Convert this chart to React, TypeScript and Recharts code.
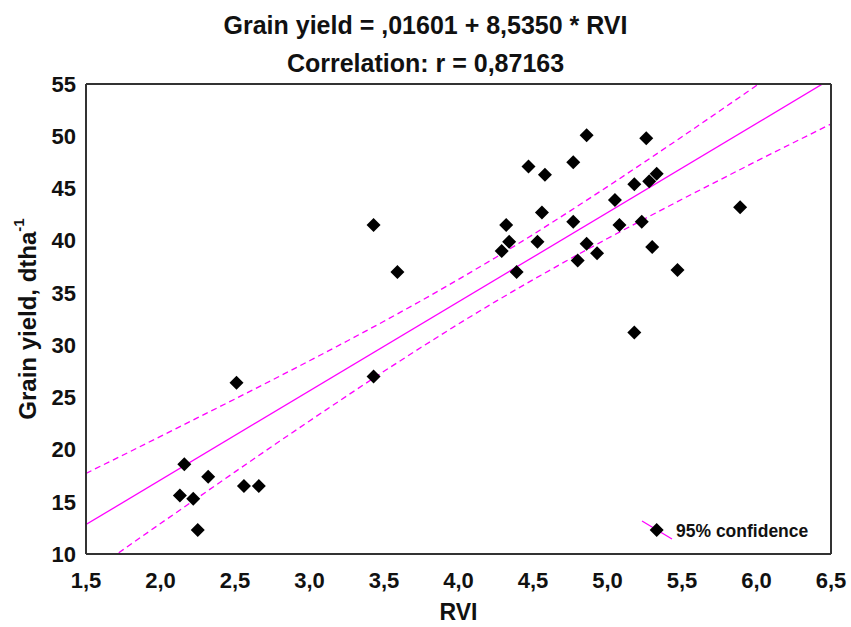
import React from 'react';
import {
  ComposedChart,
  Scatter,
  Line,
  XAxis,
  YAxis,
} from 'recharts';

// RVI vs grain yield observations
const rviValues = [
  2.51, 2.16, 2.13, 2.22, 2.25, 2.32, 2.56, 2.66, 3.43, 3.43, 3.59,
  4.32, 4.34, 4.29, 4.39, 4.47, 4.58, 4.56, 4.53, 4.86, 4.77,
  4.77, 4.86, 4.80, 4.93, 5.05, 5.08, 5.26, 5.18, 5.28, 5.33,
  5.23, 5.30, 5.47, 5.18, 5.89,
];
const yieldValues = [
  26.4, 18.6, 15.6, 15.3, 12.3, 17.4, 16.5, 16.5, 27.0, 41.5, 37.0,
  41.5, 39.9, 39.0, 37.0, 47.1, 46.3, 42.7, 39.9, 50.1, 47.5,
  41.8, 39.7, 38.1, 38.8, 43.9, 41.5, 49.8, 45.4, 45.7, 46.4,
  41.8, 39.4, 37.2, 31.2, 43.2,
];

// fitted line ends: Grain yield = ,01601 + 8,5350 * RVI
const fitX = [1.5, 6.5];
const fitY = [12.82, 55.49];

// 95% confidence bands
const bandX = [
  1.5, 1.75, 2.0, 2.25, 2.5, 2.75, 3.0, 3.25, 3.5, 3.75, 4.0,
  4.25, 4.5, 4.75, 5.0, 5.25, 5.5, 5.75, 6.0, 6.25, 6.5,
];
const bandUpper = [
  17.72, 19.48, 21.26, 23.05, 24.84, 26.66, 28.5, 30.37, 32.28, 34.25, 36.29,
  38.39, 40.58, 42.85, 45.17, 47.54, 49.95, 52.39, 54.85, 57.32, 59.81,
];
const bandLower = [
  7.92, 10.42, 12.92, 15.39, 17.86, 20.32, 22.74, 25.13, 27.5, 29.79, 32.03,
  34.19, 36.26, 38.27, 40.21, 42.1, 43.97, 45.79, 47.61, 49.4, 51.17,
];

const xTicks = [1.5, 2.0, 2.5, 3.0, 3.5, 4.0, 4.5, 5.0, 5.5, 6.0, 6.5];
const yTicks = [10, 15, 20, 25, 30, 35, 40, 45, 50, 55];

const points = rviValues.map((x, i) => ({ x, y: yieldValues[i] }));
const fitLine = fitX.map((x, i) => ({ x, y: fitY[i] }));
const upperLine = bandX.map((x, i) => ({ x, y: bandUpper[i] }));
const lowerLine = bandX.map((x, i) => ({ x, y: bandLower[i] }));

const FONT = '"Liberation Sans", Arial, sans-serif';
const FRAME = '#333';
const MAGENTA = '#ff00ff';

const Diamond = (props: any) => {
  const { cx, cy } = props;
  const r = 7;
  return (
    <polygon
      points={`${cx},${cy - r} ${cx + r},${cy} ${cx},${cy + r} ${cx - r},${cy}`}
      fill="#000"
    />
  );
};

const fmtX = (v: number) => v.toFixed(1).replace('.', ',');

const YLabel = (props: any) => {
  const { viewBox } = props;
  const cx = viewBox.x + 27;
  const cy = viewBox.y + viewBox.height / 2;
  return (
    <text
      x={cx}
      y={cy}
      transform={`rotate(-90 ${cx} ${cy})`}
      textAnchor="middle"
      dominantBaseline="central"
      fontFamily={FONT}
      fontWeight="bold"
      fontSize={24}
      fill="#111"
    >
      Grain yield, dtha
      <tspan dy={-9} fontSize={15}>-1</tspan>
    </text>
  );
};

const tickStyle = { fontSize: 22, fontWeight: 'bold', fill: '#111', fontFamily: FONT };

export default function App() {
  return (
    <div style={{ position: 'absolute', left: 0, top: 0, width: 851, height: 627, background: '#fff', fontFamily: FONT }}>
      <div style={{ position: 'absolute', left: 0, top: 11, width: 851, textAlign: 'center', fontSize: 25, fontWeight: 'bold', lineHeight: '28px', color: '#111' }}>
        Grain yield = ,01601 + 8,5350 * RVI
      </div>
      <div style={{ position: 'absolute', left: 0, top: 49, width: 851, textAlign: 'center', fontSize: 25, fontWeight: 'bold', lineHeight: '28px', color: '#111' }}>
        Correlation: r = 0,87163
      </div>
      <div style={{ position: 'absolute', left: 0, top: 0 }}>
        <ComposedChart width={851} height={627} margin={{ top: 84, right: 20, bottom: 0, left: 0 }}>
          <XAxis
            xAxisId="main"
            dataKey="x"
            type="number"
            domain={[1.5, 6.5]}
            ticks={xTicks}
            allowDataOverflow
            height={73}
            tickLine={false}
            tickSize={8}
            tickMargin={10}
            tickFormatter={fmtX}
            tick={tickStyle}
            axisLine={{ stroke: FRAME, strokeWidth: 2 }}
            label={{ value: 'RVI', position: 'insideBottom', offset: 7, fontSize: 23, fontWeight: 'bold', fill: '#111', fontFamily: FONT }}
          />
          <XAxis
            xAxisId="bottomIn"
            dataKey="x"
            type="number"
            domain={[1.5, 6.5]}
            ticks={xTicks}
            allowDataOverflow
            mirror
            height={30}
            tick={false}
            tickSize={5}
            tickLine={{ stroke: FRAME, strokeWidth: 1.5 }}
            axisLine={false}
          />
          <XAxis
            xAxisId="top"
            orientation="top"
            dataKey="x"
            type="number"
            domain={[1.5, 6.5]}
            ticks={xTicks}
            allowDataOverflow
            mirror
            height={30}
            tick={false}
            tickSize={5}
            tickLine={{ stroke: FRAME, strokeWidth: 1.5 }}
            axisLine={{ stroke: FRAME, strokeWidth: 2 }}
          />
          <YAxis
            yAxisId="main"
            dataKey="y"
            type="number"
            domain={[10, 55]}
            ticks={yTicks}
            allowDataOverflow
            width={86}
            tickLine={false}
            tickSize={5}
            tickMargin={5}
            tick={tickStyle}
            axisLine={{ stroke: FRAME, strokeWidth: 2 }}
            label={{ content: YLabel }}
          />
          <YAxis
            yAxisId="leftIn"
            type="number"
            domain={[10, 55]}
            ticks={yTicks}
            allowDataOverflow
            mirror
            width={40}
            tick={false}
            tickSize={5}
            tickLine={{ stroke: FRAME, strokeWidth: 1.5 }}
            axisLine={false}
          />
          <YAxis
            yAxisId="right"
            orientation="right"
            type="number"
            domain={[10, 55]}
            ticks={yTicks}
            allowDataOverflow
            mirror
            width={40}
            tick={false}
            tickSize={5}
            tickLine={{ stroke: FRAME, strokeWidth: 1.5 }}
            axisLine={{ stroke: FRAME, strokeWidth: 2 }}
          />
          <Line
            xAxisId="main"
            yAxisId="main"
            data={upperLine}
            dataKey="y"
            stroke={MAGENTA}
            strokeWidth={1.3}
            strokeDasharray="6 4"
            dot={false}
            isAnimationActive={false}
          />
          <Line
            xAxisId="main"
            yAxisId="main"
            data={lowerLine}
            dataKey="y"
            stroke={MAGENTA}
            strokeWidth={1.3}
            strokeDasharray="6 4"
            dot={false}
            isAnimationActive={false}
          />
          <Line
            xAxisId="main"
            yAxisId="main"
            data={fitLine}
            dataKey="y"
            stroke={MAGENTA}
            strokeWidth={1.3}
            dot={false}
            isAnimationActive={false}
          />
          <Scatter
            xAxisId="main"
            yAxisId="main"
            data={points}
            dataKey="y"
            shape={Diamond}
            isAnimationActive={false}
          />
        </ComposedChart>
      </div>
      <svg style={{ position: 'absolute', left: 640, top: 515 }} width={40} height={30}>
        <line x1={2} y1={6} x2={32} y2={24} stroke={MAGENTA} strokeWidth={1.3} />
        <polygon points="16.7,8 23.7,15 16.7,22 9.7,15" fill="#000" />
      </svg>
      <div style={{ position: 'absolute', left: 676, top: 521, fontSize: 17.5, fontWeight: 'bold', lineHeight: '20px', color: '#111', whiteSpace: 'nowrap' }}>
        95% confidence
      </div>
    </div>
  );
}
